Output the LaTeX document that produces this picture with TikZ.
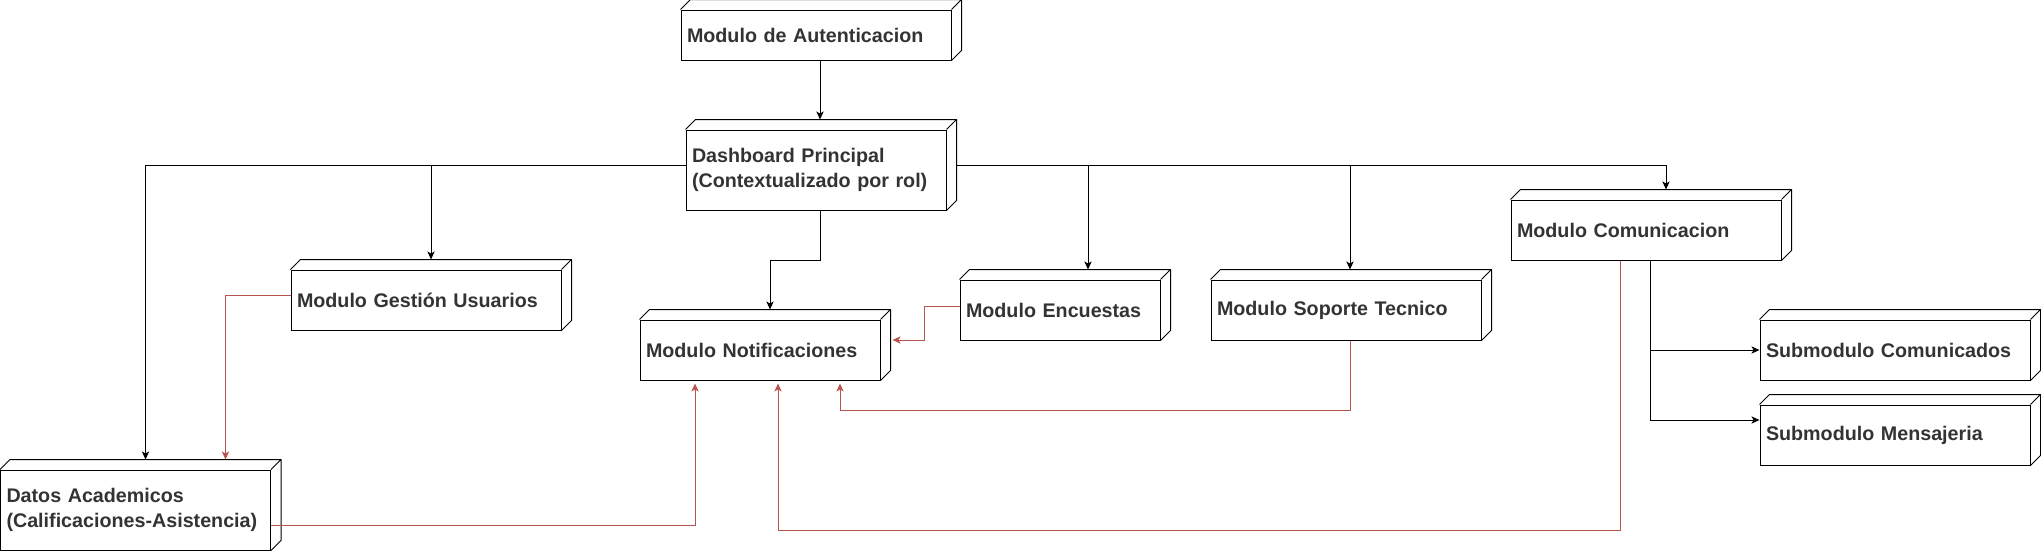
\documentclass[tikz,border=0pt]{standalone}
\usepackage{fontspec}
\setmainfont{Liberation Sans}
\usetikzlibrary{arrows.meta}
\usetikzlibrary{calc}

\definecolor{txtgray}{HTML}{333333}
\definecolor{linkred}{HTML}{B85450}

\begin{document}
\begin{tikzpicture}[x=0.5pt, y=-0.5pt, line width=0.5pt]
\pgfmathsetmacro{\DP}{5}

\tikzset{
  modulo/.style={draw, rectangle, align=left, inner xsep=3pt, inner ysep=0pt,
  text width=#1-6pt, minimum height=30pt, text=txtgray,
  font=\fontsize{9.85pt}{12.5pt}\selectfont\bfseries},
  modulo/.default=135pt,
  link/.style={->,>={Stealth[length=4pt,width=3.6pt,inset=1pt]}},
  redlink/.style={link, color=linkred},
}

\useasboundingbox (0,0) rectangle (2041,552);

\node[modulo, minimum height=25pt] (auth) at (816,35) {Modulo de Autenticacion};
\node[modulo=130pt, minimum height=40pt] (dash) at (816,170) {Dashboard Principal\\(Contextualizado por rol)};
\node[modulo] (gestion) at (426,300) {Modulo Gestión Usuarios};
\node[modulo=120pt] (notif) at (760,350) {Modulo Notificaciones};
\node[modulo=100pt] (encuestas) at (1060,310) {Modulo Encuestas};
\node[modulo] (soporte) at (1346,310) {Modulo Soporte Tecnico};
\node[modulo] (comunic) at (1646,230) {Modulo Comunicacion};
\node[modulo] (subcom) at (1895,350) {Submodulo Comunicados};
\node[modulo] (submen) at (1895,435) {Submodulo Mensajeria};
\node[modulo, minimum height=40pt] (datos) at (135.5,510) {Datos Academicos\\(Calificaciones-Asistencia)};

% caras superior y lateral
\foreach \n in {auth,dash,gestion,notif,encuestas,soporte,comunic,subcom,submen,datos}
  \draw (\n.north west) -- ++(\DP pt,\DP pt) -- ([shift={(\DP pt,\DP pt)}]\n.north east)
        -- ([shift={(\DP pt,\DP pt)}]\n.south east) -- (\n.south east)
        (\n.north east) -- ++(\DP pt,\DP pt);

\coordinate (busL) at ([yshift=2.5pt]dash.west);
\coordinate (busR) at ([shift={(5pt,2.5pt)}]dash.east);

\draw[link] ([xshift=2pt]auth.south) -- ([shift={(2pt,5pt)}]dash.north);
\draw[link] ([xshift=2pt]dash.south) -- ++(0,-25pt) -| ([shift={(5pt,5pt)}]notif.north);
\draw[link] (busL) -| ([shift={(5pt,5pt)}]datos.north);
\draw[link] ([xshift=2.5pt]gestion.north |- busL) -- ([shift={(2.5pt,5pt)}]gestion.north);
\draw[link] (busR) -| ([shift={(10pt,5pt)}]comunic.north);
\draw[link] ([xshift=14pt]encuestas.north |- busR) -- ([shift={(14pt,5pt)}]encuestas.north);
\draw[link] ([xshift=2pt]soporte.north |- busR) -- ([shift={(2pt,5pt)}]soporte.north);
\draw[link] ([xshift=2pt]comunic.south) |- (subcom.west);
\draw[link] ([xshift=2pt]comunic.south) |- ([yshift=7.5pt]submen.west);

\draw[redlink] ([yshift=2.5pt]gestion.west) -| ([shift={(45pt,5pt)}]datos.north);
\draw[redlink] ([yshift=-7.5pt]datos.east) -| ([shift={(-32.5pt,-1.5pt)}]notif.south);
\draw[redlink] ([xshift=-13pt]comunic.south) -- ++(0,-135pt) -| ([shift={(9pt,-1.5pt)}]notif.south);
\draw[redlink] ([xshift=2pt]soporte.south) -- ++(0,-35pt) -| ([shift={(40pt,-1.5pt)}]notif.south);
\draw[redlink] ([yshift=2pt]encuestas.west) -- ++(-17.5pt,0) |- ([shift={(6pt,5pt)}]notif.east);
\end{tikzpicture}
\end{document}
